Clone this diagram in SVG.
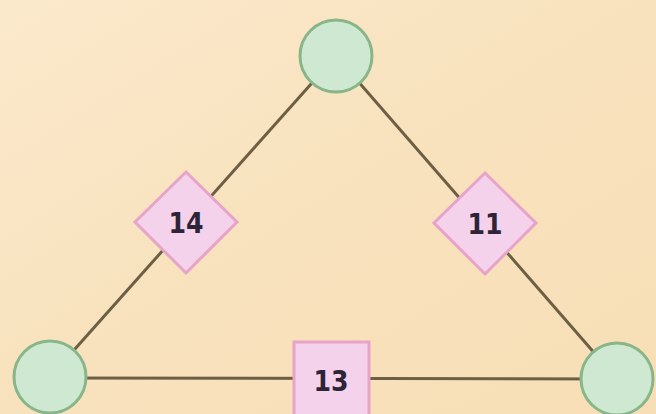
<svg xmlns="http://www.w3.org/2000/svg" width="656" height="414" viewBox="0 0 656 414">
<defs>
<linearGradient id="bg" x1="0" y1="0" x2="1" y2="1">
<stop offset="0" stop-color="#fbe9cc"/>
<stop offset="0.5" stop-color="#f8e2bd"/>
<stop offset="1" stop-color="#f7deb6"/>
</linearGradient>
<style>
.edge{stroke:#6e5f44;stroke-width:3;fill:none}
.circ{fill:#cfe8d2;stroke:#88b688;stroke-width:3}
.tag{fill:#f4d2ec;stroke:#e8a4c8;stroke-width:3}
.lbl{font-family:"DejaVu Sans Condensed","DejaVu Sans",sans-serif;font-weight:bold;font-size:28px;fill:#2e2438;text-anchor:middle;dominant-baseline:central}
</style>
</defs>
<rect width="656" height="414" fill="url(#bg)"/>
<g id="connectors">
<line class="edge" x1="336" y1="56" x2="50" y2="377"/>
<line class="edge" x1="336" y1="56" x2="617" y2="379"/>
<line class="edge" x1="50" y1="378" x2="617" y2="379"/>
</g>
<g id="node-top"><circle class="circ" cx="336" cy="56" r="36"/></g>
<g id="node-left"><circle class="circ" cx="50" cy="377" r="36"/></g>
<g id="node-right"><circle class="circ" cx="617" cy="379" r="36"/></g>
<g id="weight-14">
<polygon class="tag" points="186,172 237,222 186,273 135,222"/>
<text class="lbl" x="186" y="223">14</text>
</g>
<g id="weight-11">
<polygon class="tag" points="485,173 536,223 485,274 434,223"/>
<text class="lbl" x="485" y="224">11</text>
</g>
<g id="weight-13">
<rect class="tag" x="294" y="342" width="75" height="75"/>
<text class="lbl" x="331" y="381">13</text>
</g>
</svg>
